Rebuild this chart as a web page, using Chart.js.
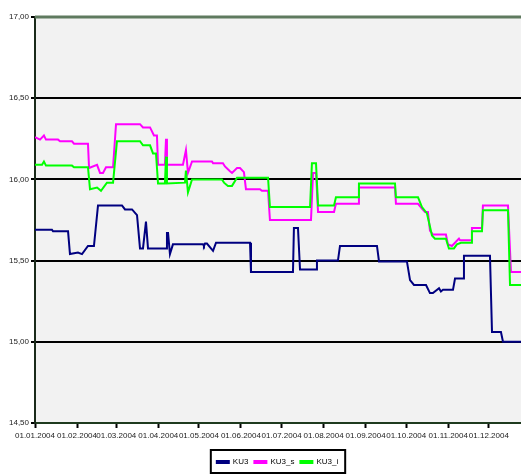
<!DOCTYPE html>
<html>
<head>
<meta charset="utf-8">
<script src="https://cdn.jsdelivr.net/npm/chart.js@4.4.0/dist/chart.umd.min.js"></script>
<style>
  html, body { margin: 0; padding: 0; background: #ffffff; }
  #wrap { width: 521px; height: 474px; position: relative; }
</style>
</head>
<body>
<div id="wrap"><canvas id="chartCanvas" width="521" height="474"></canvas></div>
<script>
// Dias del año (0 = 01.01.2004) y valores
const monthStartDays = [0, 31, 60, 91, 121, 152, 182, 213, 244, 274, 305, 335];
const monthLabels = ["01.01.2004", "01.02.2004", "01.03.2004", "01.04.2004", "01.05.2004", "01.06.2004",
  "01.07.2004", "01.08.2004", "01.09.2004", "01.10.2004", "01.11.2004", "01.12.2004"];
const yTicks = [14.5, 15, 15.5, 16, 16.5, 17];

const ku3Days = [0, 12.5, 13.3, 24.4, 25.8, 31.7, 34.7, 39.1, 43.5, 46.5, 64.2, 66.4, 71.6, 75.3, 77.5, 79.7,
  81.9, 83.4, 96.7, 97.4, 98.2, 99.6, 101.8, 124, 124.7, 125.5, 126.9, 131.4, 133.6, 158.7, 159.4, 190.4,
  191.1, 194.1, 195.6, 207.4, 208.1, 223.6, 225.1, 252.4, 253.9, 274.5, 276.8, 279.7, 288.6, 291.5, 293.7,
  298.2, 299.6, 301.1, 308.5, 310, 315.9, 316.6, 335.8, 337.3, 343.9, 345.4, 358.7];
const ku3Values = [15.69, 15.69, 15.68, 15.68, 15.54, 15.55, 15.54, 15.59, 15.59, 15.84, 15.84, 15.815, 15.815,
  15.78, 15.575, 15.575, 15.74, 15.575, 15.575, 15.67, 15.67, 15.54, 15.60, 15.60, 15.59, 15.605, 15.605,
  15.56, 15.61, 15.61, 15.43, 15.43, 15.70, 15.70, 15.445, 15.445, 15.50, 15.50, 15.59, 15.59, 15.495,
  15.495, 15.38, 15.35, 15.35, 15.30, 15.30, 15.33, 15.31, 15.32, 15.32, 15.39, 15.39, 15.53, 15.53,
  15.06, 15.06, 15.00, 15.00];

const ku3sDays = [0, 3.7, 6.6, 8.1, 17, 18.5, 27.3, 28.8, 39.1, 39.9, 45.8, 48, 50.2, 52.4, 57.6, 59.8, 77.5,
  79.7, 84.9, 87.8, 90, 90.8, 95.9, 96.7, 97.4, 109.2, 111.4, 112.9, 115.9, 130.6, 131.4, 138.7, 140.2,
  143.9, 145.4, 149.1, 151.3, 154.2, 155.7, 166, 167.5, 172, 173.4, 203.7, 205.2, 207.4, 208.9, 220.7,
  222.1, 238.4, 239.1, 265.7, 266.4, 282.7, 285.6, 287.8, 290, 291.5, 293.7, 303.3, 304.8, 307.7, 312.9,
  313.7, 321.8, 322.5, 329.9, 330.6, 349.1, 351.3, 358.7];
const ku3sValues = [16.26, 16.245, 16.27, 16.245, 16.245, 16.235, 16.235, 16.22, 16.22, 16.07, 16.09, 16.04,
  16.04, 16.075, 16.075, 16.34, 16.34, 16.32, 16.32, 16.27, 16.27, 16.09, 16.09, 16.25, 16.09, 16.09, 16.18,
  16.04, 16.11, 16.11, 16.10, 16.10, 16.08, 16.05, 16.04, 16.07, 16.07, 16.045, 15.94, 15.94, 15.93, 15.93,
  15.75, 15.75, 16.04, 16.04, 15.80, 15.80, 15.85, 15.85, 15.95, 15.95, 15.85, 15.85, 15.82, 15.80, 15.80,
  15.685, 15.66, 15.66, 15.60, 15.59, 15.635, 15.625, 15.625, 15.70, 15.70, 15.84, 15.84, 15.43, 15.43];

const ku3iDays = [0, 5.2, 6.6, 8.1, 27.3, 28.8, 39.1, 40.6, 45.8, 48.7, 53.1, 57.6, 60.5, 77.5, 79.7, 84.9,
  87.1, 89.3, 90.8, 95.9, 96.7, 97.4, 110.7, 111.4, 112.9, 115.9, 138, 139.5, 142.4, 145.4, 149.1, 172,
  173.4, 203, 204.4, 207.4, 208.9, 220.7, 222.1, 238.4, 239.1, 265.7, 266.4, 282.7, 285.6, 289.3, 293,
  295.2, 303.3, 305.5, 309.2, 311.4, 314.4, 321.8, 322.5, 329.9, 330.6, 349.1, 350.6, 358.7];
const ku3iValues = [16.09, 16.09, 16.11, 16.085, 16.085, 16.075, 16.075, 15.94, 15.95, 15.93, 15.98, 15.98,
  16.235, 16.235, 16.21, 16.21, 16.16, 16.16, 15.975, 15.975, 16.14, 15.975, 15.98, 16.055, 15.92, 16.00,
  16.00, 15.98, 15.96, 15.96, 16.01, 16.01, 15.83, 15.83, 16.10, 16.10, 15.84, 15.84, 15.89, 15.89, 15.975,
  15.975, 15.89, 15.89, 15.83, 15.79, 15.655, 15.635, 15.635, 15.575, 15.575, 15.60, 15.61, 15.61, 15.68,
  15.68, 15.81, 15.81, 15.35, 15.35];

function toPoints(days, values) {
  return days.map((d, i) => ({ x: d, y: values[i] }));
}

const fontFamily = "'Liberation Sans', Arial, sans-serif";

// Fondo gris del area de trazado, borde superior y recuadro de la leyenda
const plotDecor = {
  id: "plotDecor",
  afterLayout(chart) {
    // la leyenda del original esta algo desplazada a la derecha y abajo
    chart.legend.left += 17;
    chart.legend.right += 17;
    chart.legend.top += 2;
    chart.legend.bottom += 2;
  },
  beforeDraw(chart) {
    const a = chart.chartArea;
    const c = chart.ctx;
    c.save();
    c.fillStyle = "#f2f2f2";
    c.fillRect(a.left, a.top, a.right - a.left, a.bottom - a.top);
    c.restore();
  },
  afterDraw(chart) {
    const a = chart.chartArea;
    const c = chart.ctx;
    c.save();
    c.strokeStyle = "#5f7a5f";
    c.lineWidth = 3;
    c.beginPath();
    c.moveTo(a.left, a.top);
    c.lineTo(a.right, a.top);
    c.stroke();
    const boxes = chart.legend.legendHitBoxes;
    if (boxes && boxes.length) {
      let x1 = Infinity, x2 = -Infinity, y1 = Infinity, y2 = -Infinity;
      boxes.forEach(b => {
        x1 = Math.min(x1, b.left); x2 = Math.max(x2, b.left + b.width);
        y1 = Math.min(y1, b.top); y2 = Math.max(y2, b.top + b.height);
      });
      c.strokeStyle = "#000";
      c.lineWidth = 2;
      c.strokeRect(x1 - 6, y1 - 8, x2 - x1 + 13, y2 - y1 + 15);
    }
    c.restore();
  }
};

const ctx = document.getElementById("chartCanvas").getContext("2d");
new Chart(ctx, {
  type: "line",
  data: {
    datasets: [
      { label: "KU3", data: toPoints(ku3Days, ku3Values), borderColor: "#000080", backgroundColor: "#000080", order: 2 },
      { label: "KU3_s", data: toPoints(ku3sDays, ku3sValues), borderColor: "#ff00ff", backgroundColor: "#ff00ff", order: 1 },
      { label: "KU3_i", data: toPoints(ku3iDays, ku3iValues), borderColor: "#00ff00", backgroundColor: "#00ff00", order: 0 }
    ]
  },
  options: {
    responsive: false,
    animation: false,
    layout: { padding: { top: 17, right: 0, left: 0, bottom: 0 } },
    elements: {
      line: { borderWidth: 2, tension: 0, fill: false },
      point: { radius: 0 }
    },
    plugins: {
      tooltip: { enabled: false },
      legend: {
        position: "bottom",
        labels: {
          sort: (a, b) => a.datasetIndex - b.datasetIndex,
          boxWidth: 12,
          boxHeight: 2,
          padding: 6,
          color: "#000",
          font: { family: fontFamily, size: 8 }
        }
      }
    },
    scales: {
      x: {
        type: "linear",
        min: 0,
        max: 358.7,
        afterBuildTicks: scale => { scale.ticks = monthStartDays.map(v => ({ value: v })); },
        afterFit: scale => { scale.height = 27; },
        ticks: {
          autoSkip: false,
          maxRotation: 0,
          padding: 3,
          color: "#222",
          font: { family: fontFamily, size: 8 },
          callback: v => monthLabels[monthStartDays.indexOf(v)]
        },
        grid: { drawOnChartArea: false, drawTicks: true, tickLength: 5, tickColor: "#000", tickWidth: 2 },
        border: { color: "#1e3a1e", width: 2 }
      },
      y: {
        min: 14.5,
        max: 17,
        afterBuildTicks: scale => { scale.ticks = yTicks.map(v => ({ value: v })); },
        afterFit: scale => { scale.width = 35; },
        ticks: {
          padding: 2,
          color: "#222",
          font: { family: fontFamily, size: 8 },
          callback: v => v.toFixed(2).replace(".", ",")
        },
        grid: {
          color: c => (c.tick && (c.tick.value === 14.5 || c.tick.value === 17)) ? "rgba(0,0,0,0)" : "#000",
          lineWidth: 2,
          tickLength: 4,
          tickColor: "#000",
          tickWidth: 2
        },
        border: { color: "#1a2a1a", width: 2 }
      }
    }
  },
  plugins: [plotDecor]
});
</script>
</body>
</html>
